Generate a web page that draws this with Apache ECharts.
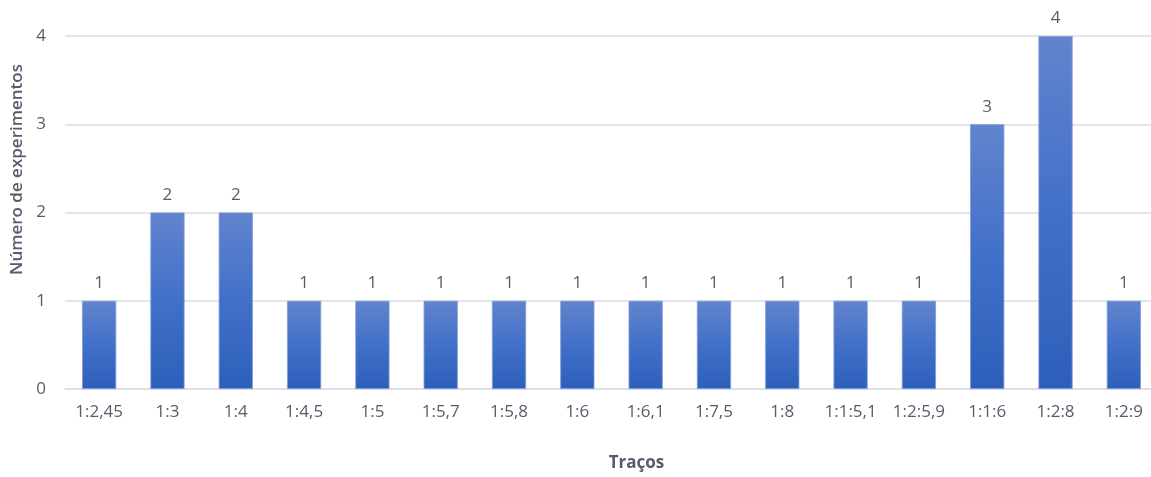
<!DOCTYPE html>
<html><head><meta charset="utf-8">
<script src="https://cdn.jsdelivr.net/npm/echarts@6/dist/echarts.min.js"></script>
<style>html,body{margin:0;padding:0;background:#fff}#c{width:1151px;height:477px}</style>
</head><body><div id="c"></div>
<script>
const categories = ['1:2,45','1:3','1:4','1:4,5','1:5','1:5,7','1:5,8','1:6','1:6,1','1:7,5','1:8','1:1:5,1','1:2:5,9','1:1:6','1:2:8','1:2:9'];
const values = [1,2,2,1,1,1,1,1,1,1,1,1,1,3,4,1];
const yTicks = [0,1,2,3,4];
const textColor = '#555d6b';
const font = '"Open Sans", "Noto Sans", sans-serif';
const chart = echarts.init(document.getElementById('c'));
chart.setOption({
  animation: false,
  grid: { left: 65, top: 36, bottom: 88, width: 1093, outerBoundsMode: 'none', containLabel: false },
  xAxis: {
    type: 'category', data: categories,
    name: 'Traços', nameLocation: 'middle', nameGap: 66,
    nameTextStyle: { color: textColor, fontSize: 17, fontWeight: 'bold', fontFamily: font, padding: [0,0,0,50] },
    axisLine: { lineStyle: { color: '#d9dde5', width: 1.5 } },
    axisTick: { show: false },
    axisLabel: { color: textColor, fontSize: 17, fontFamily: font, margin: 15 }
  },
  yAxis: {
    type: 'value', min: yTicks[0], max: yTicks[yTicks.length-1], interval: 1,
    name: 'Número de experimentos', nameLocation: 'middle', nameGap: 38,
    nameTextStyle: { color: textColor, fontSize: 17, fontWeight: 600, fontFamily: font, padding: [0,0,0,86] },
    axisLine: { show: false }, axisTick: { show: false },
    axisLabel: { color: textColor, fontSize: 17, fontFamily: font, margin: 19 },
    splitLine: { lineStyle: { color: '#d9dde5', width: 1.5 } }
  },
  series: [{
    type: 'bar', data: values, barWidth: '50%',
    itemStyle: {
      color: new echarts.graphic.LinearGradient(0,0,0,1,[
        {offset:0,color:'#6284cd'},{offset:0.5,color:'#4170c9'},{offset:1,color:'#2d5fba'}
      ]),
      borderColor: '#7d9bd8', borderWidth: 0.8
    },
    label: { show: true, position: 'top', distance: 9, color: textColor, fontSize: 17, fontFamily: font }
  }]
});
</script></body></html>
